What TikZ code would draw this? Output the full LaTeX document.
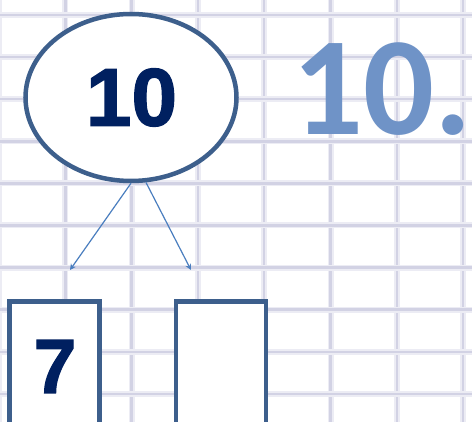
\documentclass[tikz,border=0pt]{standalone}
\usepackage{fontspec}
\usepackage{tikz}
\usetikzlibrary{positioning,shapes.geometric,arrows.meta}
\newfontfamily\digitfont{Liberation Sans}[BoldFont={Liberation Sans Bold},BoldFeatures={FakeBold=1.6}]
\newfontfamily\titlefont{Carlito}[BoldFont={Carlito Bold}]
\definecolor{navy}{HTML}{002060}
\definecolor{frame}{HTML}{3D5F8C}
\definecolor{sky}{HTML}{6F93C7}
\definecolor{arrowblue}{HTML}{4A7EBF}
\definecolor{gridline}{HTML}{D2D2E4}
\definecolor{gridhalo}{HTML}{ECECF4}

\begin{document}
\begin{tikzpicture}[x=1pt,y=-1pt,
  partbox/.style={draw=frame,line width=4.5pt,fill=white,rectangle,
                  minimum width=90pt,minimum height=160pt,inner sep=0pt},
  digit/.style={text=navy,inner sep=0pt,font=\digitfont\bfseries}]
  \useasboundingbox (0,0) rectangle (472,422);
  \clip (0,0) rectangle (472,422);
  \fill[white] (0,0) rectangle (472,422);
  % grid
  \foreach \i in {0,...,7}{
    \draw[gridhalo,line width=6pt] (-1+66.3*\i,0) -- (-1+66.3*\i,422);
    \draw[gridline,line width=2.5pt] (-1+66.3*\i,0) -- (-1+66.3*\i,422);}
  \foreach \j in {0,...,9}{
    \draw[gridhalo,line width=6pt] (0,15+42.1*\j) -- (472,15+42.1*\j);
    \draw[gridline,line width=2.5pt] (0,15+42.1*\j) -- (472,15+42.1*\j);}
  % number and its two parts
  \node[ellipse,draw=frame,line width=4.5pt,fill=white,
        minimum width=211pt,minimum height=167pt,inner sep=0pt] (whole) at (131,97.5) {};
  \node[digit,font=\fontsize{82}{82}\digitfont\bfseries] (wholenum) at (131.5,97.5) {10};
  \node[partbox] (partA) at (54.5,381.5) {};
  \node[partbox] (partB) at (221,381.5) {};
  \node[digit,font=\fontsize{77}{77}\digitfont\bfseries] (partAnum) at (55,366.5) {7};
  \coordinate (endA) at (70,270);
  \coordinate (endB) at (191,270);
  \draw[arrowblue,line width=1.2pt,-{Stealth[length=6pt,width=6pt]}] (whole.-90) -- (endA);
  \draw[arrowblue,line width=1.2pt,-{Stealth[length=6pt,width=6pt]}] (whole.-80) -- (endB);
  % task number
  \node[text=sky,inner sep=0pt,font=\fontsize{140}{140}\titlefont\bfseries] (task) at (382,89) {10.};
\end{tikzpicture}
\end{document}
